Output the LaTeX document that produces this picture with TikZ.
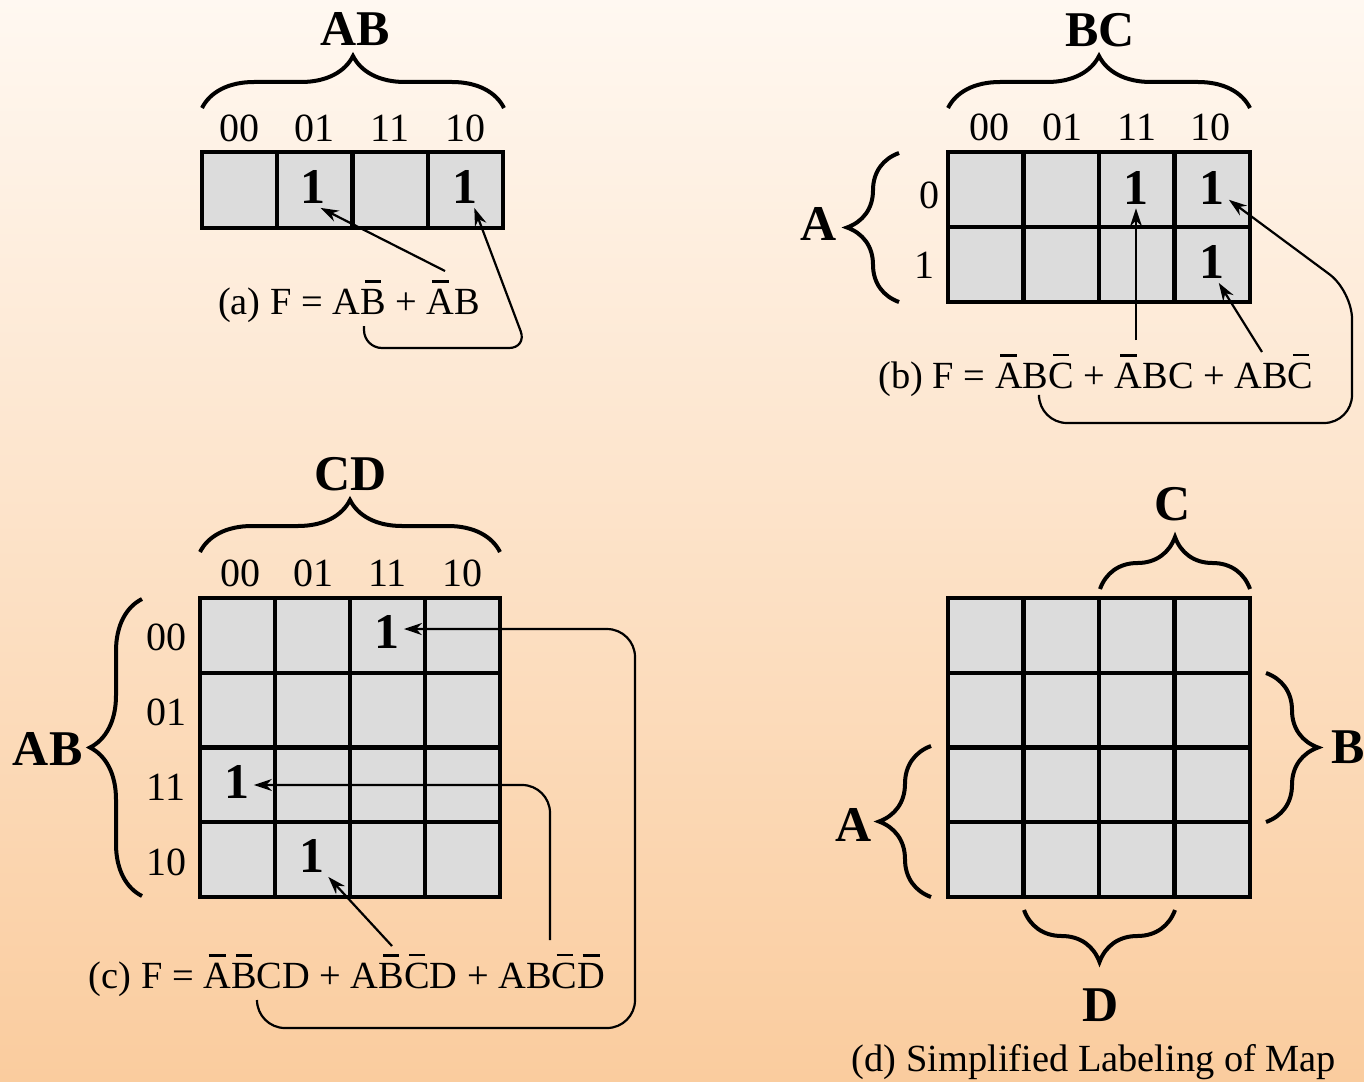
\documentclass[tikz,border=0pt]{standalone}
\usepackage{fontspec}
\setmainfont{Liberation Serif}
\usetikzlibrary{decorations.pathreplacing,arrows.meta}
\definecolor{bgtop}{RGB}{255,248,241}
\definecolor{bgbot}{RGB}{250,204,158}
\definecolor{cellgray}{RGB}{220,220,220}
\newcommand\nbar[1]{{\setbox0\hbox{#1}\dimen0=\ht0 \advance\dimen0 by 0.16em\relax
\hbox to \wd0{\hss\vrule width 0.62\wd0 height \dimexpr\dimen0+0.07em\relax depth -\dimen0\hss}\kern-\wd0 \box0}}
\begin{document}
\begin{tikzpicture}[x=0.5pt,y=-0.5pt,
  kgrid/.style={line width=2.2pt},
  lbl/.style={font=\fontsize{25}{30}\selectfont\bfseries, inner sep=0pt},
  num/.style={font=\fontsize{20}{24}\selectfont, inner sep=0pt},
  one/.style={font=\fontsize{25}{30}\selectfont\bfseries, inner sep=2pt},
  capt/.style={font=\fontsize{19.2}{23}\selectfont, inner sep=0pt, anchor=base},
  brc/.style={decorate, decoration={brace, amplitude=26pt}, line width=2pt},
  conn/.style={line width=1.1pt, -{Stealth[length=9pt,width=6pt]}}]
\useasboundingbox (0,0) rectangle (1364,1081);
\shade[top color=bgtop, bottom color=bgbot] (0,0) rectangle (1364,1081);

% ---------- (a) ----------
\filldraw[kgrid, fill=cellgray] (202,152) rectangle (503,228);
\foreach \x in {277.25,352.5,427.75} \draw[kgrid] (\x,152) -- (\x,228);
\node[lbl] (aAB) at (355,29) {AB};
\draw[brc] (202,108) -- (504,108);
\foreach \t/\x in {00/239.6,01/314.9,11/390.1,10/465.4} \node[num] (ca\t) at (\x,128.5) {\t};
\node[one] (a1) at (313,187) {1};
\node[one] (a2) at (465,187) {1};
\node[capt] (capa) at (349,314) {(a) F = A\nbar{B} + \nbar{A}B};
\coordinate (sa1) at (445,271);
\coordinate (sa2) at (364,326);
\draw[conn] (sa1) -- (a1.-70);
\draw[conn, rounded corners=9pt] (sa2) -- (364,348) -- (527,348) -- (a2.-66);

% ---------- (b) ----------
\filldraw[kgrid, fill=cellgray] (948,152) rectangle (1250,302);
\foreach \x in {1023.5,1099,1174.5} \draw[kgrid] (\x,152) -- (\x,302);
\draw[kgrid] (948,227) -- (1250,227);
\node[lbl] (bBC) at (1100,30) {BC};
\draw[brc] (948,108) -- (1250,108);
\foreach \t/\x in {00/989,01/1062,11/1137,10/1210} \node[num] (cb\t) at (\x,127.5) {\t};
\node[num] (rb0) at (929,195) {0};
\node[num] (rb1) at (924,265) {1};
\node[lbl] (bA) at (819,224) {A};
\draw[brc] (899,302) -- (899,153);
\node[one] (b1) at (1136,187.5) {1};
\node[one] (b2) at (1212,187.5) {1};
\node[one] (b3) at (1212,262) {1};
\node[capt] (capb) at (1096,388) {(b) F = \nbar{A}B\nbar{C} + \nbar{A}BC + AB\nbar{C}};
\coordinate (sb1) at (1136,340);
\coordinate (sb3) at (1262,352);
\coordinate (sb2) at (1039,398);
\draw[conn] (sb1) -- (b1.south);
\draw[conn] (sb3) -- (b3.-72);
\draw[conn, rounded corners=14pt] (sb2) -- (1039,423) -- (1352,423) -- (1352,291) -- (b2.-36);

% ---------- (c) ----------
\filldraw[kgrid, fill=cellgray] (200,598) rectangle (500,897);
\foreach \x in {275,350,425} \draw[kgrid] (\x,598) -- (\x,897);
\foreach \y in {672.75,747.5,822.25} \draw[kgrid] (200,\y) -- (500,\y);
\node[lbl] (cCD) at (350.5,474) {CD};
\draw[brc] (200,552) -- (500,552);
\foreach \t/\x in {00/240,01/313,11/387.5,10/462} \node[num] (cc\t) at (\x,573.5) {\t};
\foreach \t/\y in {00/637,01/712,11/787,10/862} \node[num] (rc\t) at (166,\y) {\t};
\node[lbl] (cAB) at (47.7,749) {AB};
\draw[brc] (142,896) -- (142,599);
\node[one] (c1) at (387,632) {1};
\node[one] (c2) at (237,782) {1};
\node[one] (c3) at (312,856) {1};
\node[capt] (capc) at (347,988) {(c) F = \nbar{A}\nbar{B}CD + A\nbar{B}\nbar{C}D + AB\nbar{C}\nbar{D}};
\coordinate (sc3) at (392,946);
\coordinate (sc2) at (550,940);
\coordinate (sc1) at (257,1000);
\draw[conn] (sc3) -- (c3.-52);
\draw[conn, rounded corners=14pt] (sc2) |- (c2.-10);
\draw[conn, rounded corners=14pt] (sc1) -- (257,1028) -- (635,1028) |- (c1.10);

% ---------- (d) ----------
\filldraw[kgrid, fill=cellgray] (948,598) rectangle (1250,897);
\foreach \x in {1023.5,1099,1174.5} \draw[kgrid] (\x,598) -- (\x,897);
\foreach \y in {672.75,747.5,822.25} \draw[kgrid] (948,\y) -- (1250,\y);
\draw[brc] (1100,589) -- (1250,589);
\node[lbl] (dC) at (1172.5,504) {C};
\draw[brc] (1266,673) -- (1266,822);
\node[lbl] (dB) at (1348.5,747) {B};
\draw[brc] (931,897) -- (931,746);
\node[lbl] (dA) at (853.5,825) {A};
\draw[brc] (1175,910) -- (1024,910);
\node[lbl] (dD) at (1101,1005) {D};
\node[capt] (capd) at (1094,1071) {(d) Simplified Labeling of Map};
\end{tikzpicture}
\end{document}
